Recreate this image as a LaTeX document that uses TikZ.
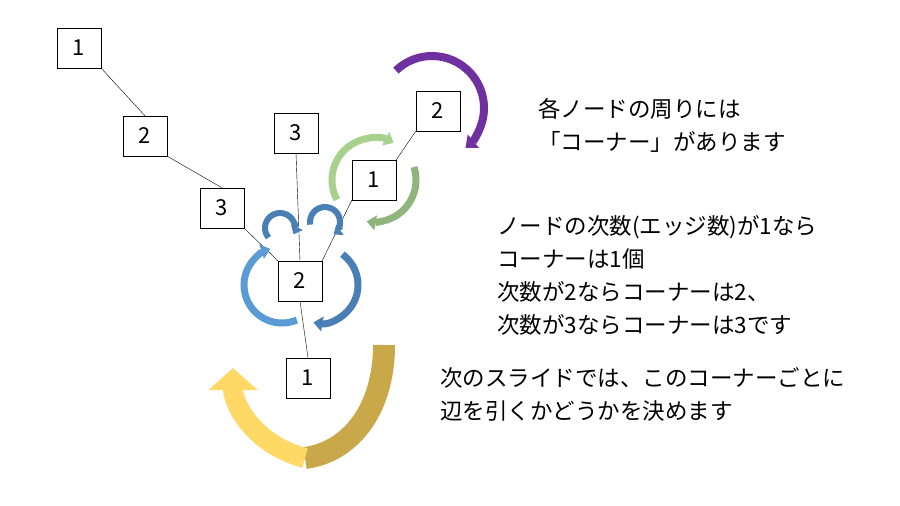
\documentclass[tikz,border=0pt]{standalone}
\usepackage{fontspec}
\setmainfont{Noto Sans CJK JP}
\usetikzlibrary{arrows.meta,calc}
\tikzset{
  num/.style={draw,fill=white,minimum width=44pt,minimum height=40pt,inner sep=0pt,font=\fontsize{22}{26}\selectfont},
  note/.style={anchor=west,align=left,inner sep=0pt,font=\fontsize{22.5}{33}\selectfont},
  curl/.style={line width=#1,-{Triangle[width=2.1*#1,length=1.3*#1]}},
}
\definecolor{bluea}{HTML}{5B9BD5}
\definecolor{blueb}{HTML}{4A7FB5}
\definecolor{greena}{HTML}{A9D18E}
\definecolor{greenb}{HTML}{8AAE78}
\definecolor{purp}{HTML}{7030A0}
\definecolor{golda}{HTML}{FFD966}
\definecolor{goldb}{HTML}{C9A84A}
\begin{document}
\begin{tikzpicture}[x=1pt,y=-1pt]
\useasboundingbox (0,0) rectangle (900,506);

% tree nodes
\node[num] (a1) at (79,48) {1};
\node[num] (a2) at (145,136) {2};
\node[num] (a3) at (222,208) {3};
\node[num] (b3) at (296,133) {3};
\node[num] (c2) at (300,281) {2};
\node[num] (c1) at (374,180) {1};
\node[num] (t2) at (438,111) {2};
\node[num] (d1) at (308,378) {1};

% edges
\draw (a1.south east) -- (a2.north);
\draw (a2.south east) -- (a3.north);
\draw (a3.south east) -- (c2.north west);
\draw (b3.south) -- (c2.north);
\draw (c1.south west) -- (c2.north east);
\draw (t2.south west) -- (c1.north east);
\draw (c2.south) -- (d1.north);

% corner arrows
\draw[curl=8pt,purp] ($(t2)+(-6,-3)$) ++(-134:52) arc[start angle=-134,end angle=50,radius=52];
\draw[curl=7pt,greena] (c1) ++(152:42) arc[start angle=152,end angle=298,radius=42];
\draw[curl=7pt,greenb!80!greena] (c1) ++(-18:42) arc[start angle=-18,end angle=100,radius=42];
\draw[curl=6pt,blueb] ($(c2)+(-20,-53)$) ++(140:15) arc[start angle=140,end angle=385,radius=15];
\draw[curl=6pt,blueb] ($(c2)+(25,-59)$) ++(170:15) arc[start angle=170,end angle=415,radius=15];
\draw[curl=7pt,bluea] ($(c2)+(-18,4)$) ++(67:38) arc[start angle=67,end angle=252,radius=38];
\draw[curl=7pt,blueb] ($(c2)+(20,4)$) ++(-54:38) arc[start angle=-54,end angle=100,radius=38];

% big U arrow
\draw[line width=22pt,goldb] (384,345) .. controls (384,410) and (350,452) .. (305,458);
\draw[line width=20pt,golda,-{Triangle[width=48pt,length=22pt]}] (305,458) .. controls (255,445) and (233,405) .. (233,368);

% notes
\node[note] (n1) at (538,125) {各ノードの周りには\\「コーナー」があります};
\node[note] (n2) at (497,275) {ノードの次数(エッジ数)が1なら\\コーナーは1個\\次数が2ならコーナーは2、\\次数が3ならコーナーは3です};
\node[note] (n3) at (440,394) {次のスライドでは、このコーナーごとに\\辺を引くかどうかを決めます};
\end{tikzpicture}
\end{document}
